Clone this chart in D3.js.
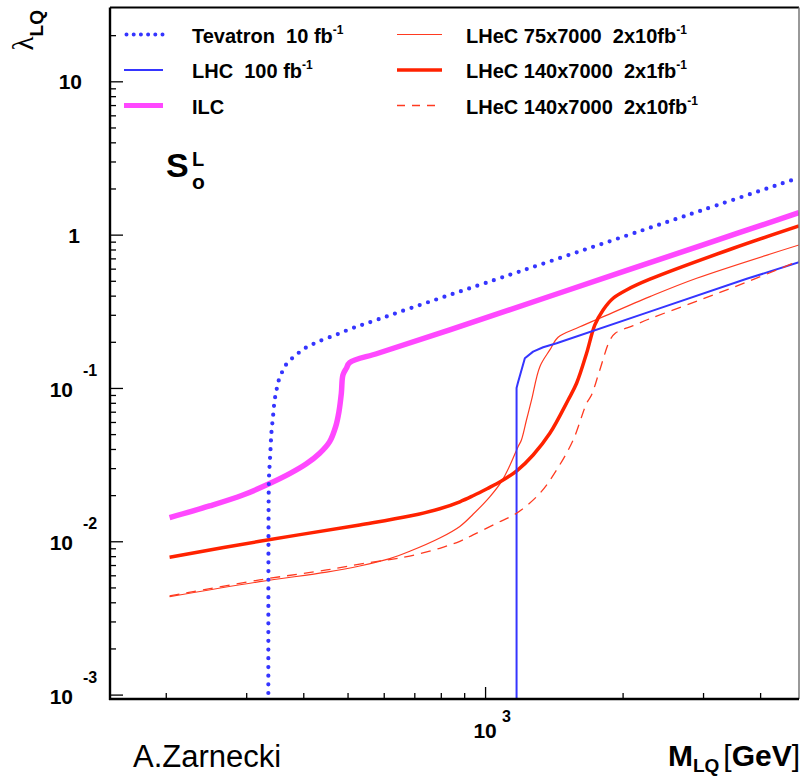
<!DOCTYPE html>
<html><head><meta charset="utf-8">
<script src="https://cdn.jsdelivr.net/npm/d3@7"></script>
<style>
body{margin:0;background:#fff}
svg{display:block}
text{font-family:"Liberation Sans",Arial,Helvetica,sans-serif;white-space:pre}
</style>
</head><body><svg id="c" width="803" height="777"></svg>
<script>
// ---- data: [M_LQ (GeV), lambda_LQ] ----
const tevatron = [[335.4,0.0009],[336,0.0204],[336.6,0.0264],[338.9,0.0384],[340.6,0.0506],[343.4,0.065],[346.3,0.0835],[349.3,0.0956],[352.1,0.1083],[358.1,0.1234],[364.1,0.1377],[374.8,0.1523],[387.5,0.1659],[400.8,0.1796],[416.7,0.1908],[434.6,0.2025],[471,0.2217],[511.3,0.2451],[556.3,0.2667],[700,0.338],[1000,0.483],[2000,0.966],[3000,1.45],[4866,2.35]];
const lhc = [[1172,0.0009],[1172,0.100],[1180,0.108],[1222,0.156],[1274,0.1725],[1340,0.1843],[1434,0.1957],[2295,0.3146],[3739,0.515],[4866,0.66]];
const ilc = [[203.9,0.01425],[249.4,0.01699],[295.1,0.02004],[337.6,0.0238],[373.5,0.0276],[406.3,0.0320],[434.5,0.0375],[456.9,0.04464],[470.9,0.05592],[478.8,0.07005],[484.6,0.09235],[488.5,0.1216],[497,0.1344],[505.3,0.1462],[583,0.1684],[836.9,0.2389],[1500,0.429],[3000,0.858],[4866,1.39]];
const lhec75 = [[203.9,0.00435],[321,0.00545],[450,0.0063],[531.6,0.0069],[618.6,0.0077],[684,0.0086],[795.8,0.0105],[880.5,0.0125],[941.3,0.0150],[1024,0.0195],[1086,0.0245],[1133,0.0312],[1181,0.0414],[1201,0.0458],[1232,0.0618],[1264,0.0835],[1318,0.1377],[1386,0.177],[1445,0.2141],[1586,0.2451],[1783,0.285],[2295,0.394],[2905,0.5195],[4866,0.856]];
const lhec140lo = [[203.9,0.00786],[321,0.0100],[531.6,0.01278],[684,0.0146],[795.8,0.0163],[880.5,0.0181],[941.3,0.0198],[1010,0.0220],[1086,0.0247],[1175,0.0289],[1274,0.03655],[1386,0.0506],[1520,0.0835],[1586,0.1073],[1668,0.1684],[1739,0.2576],[1813,0.3228],[1907,0.3847],[2040,0.4357],[2295,0.5118],[3494,0.815],[4866,1.14]];
const lhec140hi = [[203.9,0.0044],[321,0.0056],[450,0.0065],[531.6,0.0071],[618.6,0.0076],[684,0.0080],[795.8,0.0090],[880.5,0.0100],[941.3,0.0110],[1059,0.0131],[1172,0.01523],[1318,0.02056],[1434,0.0292],[1559,0.04578],[1668,0.07947],[1710,0.09],[1783,0.131],[1876,0.205],[1930,0.228],[2110,0.255],[2295,0.283],[2953,0.375],[3801,0.50],[4866,0.675]];

const xMinorTicks = [200,300,400,500,600,700,800,900,2000,3000,4000];
const xMajorTicks = [1000];
const xMajorExp = ["3"];
const yMajorTicks = [0.001,0.01,0.1,1,10];
const yMajorLabels = [["10","-3"],["10","-2"],["10","-1"],["1",""],["10",""]];
const yMinorTicks = [];
[0.001,0.01,0.1,1,10].forEach(d=>{for(let k=2;k<=9;k++){const v=k*d; if(v<30) yMinorTicks.push(v);}});

const legendLabels = ["Tevatron  10 fb","LHC  100 fb","ILC","LHeC 75x7000  2x10fb","LHeC 140x7000  2x1fb","LHeC 140x7000  2x10fb"];
const legendSup = ["-1","-1","","-1","-1","-1"];

// ---- styles ----
const BLUE="#3535ff", MAG="#ff48ff", RED="#ff2200", RED2="#ff3a20";
const smooth = d3.curveCatmullRom.alpha(0.5);
const styles = [
  {data:tevatron, color:BLUE, w:4.2, dash:"0,8.7", cap:"round", curve:smooth, ldash:"0,7.2", lw:4},
  {data:lhc, color:BLUE, w:2, dash:null, cap:"butt", curve:d3.curveLinear, lw:2},
  {data:ilc, color:MAG, w:5.5, dash:null, cap:"butt", curve:smooth, lw:5},
  {data:lhec75, color:RED2, w:1.2, dash:null, cap:"butt", curve:smooth, lw:1.2},
  {data:lhec140lo, color:RED, w:3.5, dash:null, cap:"butt", curve:smooth, lw:3.5},
  {data:lhec140hi, color:RED2, w:1.3, dash:"10,7", cap:"butt", curve:smooth, ldash:"8,7", lw:1.3}
];

const svg = d3.select("#c");
const L=110, R=799, T=7.5, B=699;
const x = d3.scaleLog().domain([151,4866]).range([L,R]);
const y = d3.scaleLog().domain([0.000936,30.3]).range([B,T]);

svg.append("defs").append("clipPath").attr("id","clip")
  .append("rect").attr("x",L).attr("y",T).attr("width",R-L).attr("height",B-T);

// curves
const plot = svg.append("g").attr("clip-path","url(#clip)");
const order = [3,4,1,5,2,0];
order.forEach(i=>{
  const s=styles[i];
  const line=d3.line().x(d=>x(d[0])).y(d=>y(d[1])).curve(s.curve);
  plot.append("path").attr("d",line(s.data)).attr("fill","none")
    .attr("stroke",s.color).attr("stroke-width",s.w)
    .attr("stroke-linecap",s.cap).attr("stroke-linejoin","round")
    .attr("stroke-dasharray",s.dash);
});

// axes (ticks inward)
function styleAxis(g){g.select(".domain").remove(); g.selectAll(".tick line").attr("stroke","#000").attr("stroke-width",1.3);}
svg.append("g").attr("transform",`translate(${L},0)`)
  .call(d3.axisLeft(y).tickValues(yMinorTicks).tickSize(-6).tickFormat("")).call(styleAxis);
svg.append("g").attr("transform",`translate(${L},0)`)
  .call(d3.axisLeft(y).tickValues(yMajorTicks).tickSize(-13).tickFormat("")).call(styleAxis);
svg.append("g").attr("transform",`translate(0,${B})`)
  .call(d3.axisBottom(x).tickValues(xMinorTicks).tickSize(-6).tickFormat("")).call(styleAxis);
svg.append("g").attr("transform",`translate(0,${B})`)
  .call(d3.axisBottom(x).tickValues(xMajorTicks).tickSize(-12).tickFormat("")).call(styleAxis);

// frame
svg.append("line").attr("x1",L).attr("x2",R).attr("y1",T).attr("y2",T).attr("stroke","#000").attr("stroke-width",2);
svg.append("line").attr("x1",R).attr("x2",R).attr("y1",T).attr("y2",B).attr("stroke","#777").attr("stroke-width",1.5);
svg.append("line").attr("x1",L).attr("x2",L).attr("y1",T).attr("y2",B+1).attr("stroke","#000").attr("stroke-width",2.4);
svg.append("line").attr("x1",L-1).attr("x2",R).attr("y1",B).attr("y2",B).attr("stroke","#000").attr("stroke-width",2.4);

// y tick labels
yMajorTicks.forEach((v,i)=>{
  const [base,ex]=yMajorLabels[i];
  const yy=y(v);
  if(ex){
    svg.append("text").attr("x",73).attr("y",yy+9).attr("text-anchor","end")
      .attr("font-size",21).attr("font-weight","bold").text(base);
    svg.append("text").attr("x",83).attr("y",yy-12).attr("font-size",16).attr("font-weight","bold").text(ex);
  } else {
    svg.append("text").attr("x",base==="1"?80:82).attr("y",yy+8).attr("text-anchor","end")
      .attr("font-size",21).attr("font-weight","bold").text(base);
  }
});
// x tick labels
xMajorTicks.forEach((v,i)=>{
  const xx=x(v);
  svg.append("text").attr("x",xx).attr("y",738).attr("text-anchor","middle")
    .attr("font-size",21).attr("font-weight","bold").text("10");
  svg.append("text").attr("x",xx+17).attr("y",722).attr("font-size",16).attr("font-weight","bold").text(xMajorExp[i]);
});

// axis titles
const xt = svg.append("text").attr("x",800).attr("y",766).attr("text-anchor","end").attr("font-weight","bold");
xt.append("tspan").attr("font-size",30).text("M");
xt.append("tspan").attr("font-size",19).attr("dy",6).text("LQ");
xt.append("tspan").attr("font-size",30).attr("dy",-6).attr("dx",4).attr("font-weight","normal").text("[");
xt.append("tspan").attr("font-size",30).text("GeV");
xt.append("tspan").attr("font-size",30).attr("font-weight","normal").text("]");

const yt = svg.append("text").attr("transform","translate(33,10) rotate(-90)").attr("text-anchor","end");
yt.append("tspan").attr("font-size",29).attr("font-family","'Liberation Serif','DejaVu Serif',serif").text("λ");
yt.append("tspan").attr("font-size",19).attr("font-weight","bold").attr("dy",10).text("LQ");

svg.append("text").attr("x",133).attr("y",767).attr("font-size",31).text("A.Zarnecki");

// S_o^L
svg.append("text").attr("x",166).attr("y",177).attr("font-size",34).attr("font-weight","bold").text("S");
svg.append("text").attr("x",192).attr("y",166).attr("font-size",20).attr("font-weight","bold").text("L");
svg.append("text").attr("x",192).attr("y",189).attr("font-size",21).attr("font-weight","bold").text("o");

// legend
const legY=[34.5,70,105.5];
styles.forEach((s,i)=>{
  const col=Math.floor(i/3), row=i%3;
  const x0 = col===0?124:397, x1 = col===0?163:442, tx = col===0?192:466;
  const ly=legY[row];
  svg.append("line").attr("x1",i===0?126.5:x0).attr("x2",x1).attr("y1",ly).attr("y2",ly)
    .attr("stroke",s.color).attr("stroke-width",s.lw)
    .attr("stroke-linecap",s.cap).attr("stroke-dasharray",s.ldash||s.dash);
  const t=svg.append("text").attr("x",tx).attr("y",ly+8).attr("font-size",20).attr("font-weight","bold");
  t.append("tspan").text(legendLabels[i]);
  if(legendSup[i]) t.append("tspan").attr("font-size",12).attr("dy",-9).text(legendSup[i]);
});
</script></body></html>
